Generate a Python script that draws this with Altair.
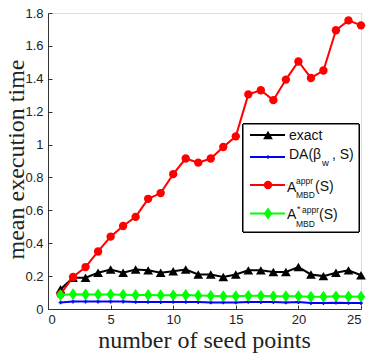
import altair as alt
import pandas as pd

seeds = list(range(1, 26))

exact = [0.12, 0.19, 0.19, 0.22, 0.24, 0.22, 0.24, 0.235, 0.22, 0.23,
         0.24, 0.21, 0.21, 0.195, 0.21, 0.235, 0.235, 0.225, 0.225, 0.255,
         0.21, 0.20, 0.22, 0.235, 0.205]
da_beta = [0.04, 0.045, 0.045, 0.045, 0.045, 0.045, 0.043, 0.043, 0.042, 0.043,
           0.043, 0.042, 0.04, 0.04, 0.04, 0.043, 0.042, 0.042, 0.04, 0.042,
           0.036, 0.036, 0.038, 0.037, 0.036]
a_mbd = [0.09, 0.195, 0.255, 0.35, 0.44, 0.505, 0.56, 0.67, 0.705, 0.82,
         0.915, 0.89, 0.915, 0.985, 1.05, 1.305, 1.33, 1.27, 1.395, 1.505,
         1.405, 1.45, 1.695, 1.755, 1.725]
a_mbd_star = [0.085, 0.09, 0.088, 0.088, 0.088, 0.087, 0.085, 0.085, 0.084, 0.084,
              0.085, 0.082, 0.08, 0.078, 0.078, 0.08, 0.08, 0.078, 0.078, 0.078,
              0.075, 0.075, 0.077, 0.076, 0.075]

series_names = ["exact", "da", "appr", "star"]
series_values = [exact, da_beta, a_mbd, a_mbd_star]
series_colors = ["#000000", "#0000ff", "#ff0000", "#00ff00"]

rows = []
for name, vals in zip(series_names, series_values):
    for s, v in zip(seeds, vals):
        rows.append({"series": name, "seeds": s, "time": v})
df = pd.DataFrame(rows)

W, H = 313, 296
sans = "Liberation Sans"
serif = "Liberation Serif"
x_ticks = [0, 5, 10, 15, 20, 25]
y_ticks = [0, 0.2, 0.4, 0.6, 0.8, 1.0, 1.2, 1.4, 1.6, 1.8]

x_scale = alt.Scale(domain=[0, 25], nice=False, zero=False)
y_scale = alt.Scale(domain=[0, 1.8], nice=False)

x_axis = alt.Axis(values=x_ticks, ticks=False, grid=False,
                  domainColor="#333333", labelFont=sans, labelFontSize=13,
                  labelColor="#222222", labelPadding=4,
                  title="number of seed points", titleFont=serif,
                  titleFontSize=24, titleFontWeight="normal", titleColor="#222222",
                  titleBaseline="alphabetic", titleX=156, titleY=38)
y_axis = alt.Axis(values=y_ticks, format=".1~f", ticks=False, grid=False,
                  domainColor="#333333", labelFont=sans, labelFontSize=13,
                  labelColor="#222222", labelPadding=5,
                  title="mean execution time", titleFont=serif,
                  titleFontSize=24, titleFontWeight="normal", titleColor="#222222",
                  titleBaseline="alphabetic", titleAngle=-90,
                  titleX=-25, titleY=146)

base = alt.Chart(df)

marker_specs = {
    "exact": dict(shape="triangle-up", size=95, filled=True),
    "da": dict(shape="M-1,0L1,0M0,-1L0,1", size=14, filled=False, strokeWidth=1.5),
    "appr": dict(shape="circle", size=70, filled=True),
    "star": dict(shape="M0,-1L0.7,0L0,1L-0.7,0Z", size=140, filled=True),
}

layers = []
first = True
for name, color in zip(series_names, series_colors):
    sub = base.transform_filter(alt.datum.series == name)
    line = sub.mark_line(color=color, strokeWidth=2).encode(
        x=alt.X("seeds:Q", scale=x_scale, axis=x_axis if first else None),
        y=alt.Y("time:Q", scale=y_scale, axis=y_axis if first else None),
    )
    first = False
    pts = sub.mark_point(color=color, opacity=1, **marker_specs[name]).encode(
        x=alt.X("seeds:Q", scale=x_scale, axis=None),
        y=alt.Y("time:Q", scale=y_scale, axis=None),
    )
    layers += [line, pts]

# inward-pointing ticks: axes shifted into the plot with outward ticks
tick_layer = alt.Chart(df).mark_point(opacity=0).encode(
    x=alt.X("seeds:Q", scale=x_scale,
            axis=alt.Axis(values=x_ticks, orient="bottom", offset=-4,
                          tickSize=4, tickColor="#333333", domain=False,
                          labels=False, title=None, grid=False)),
    y=alt.Y("time:Q", scale=y_scale,
            axis=alt.Axis(values=y_ticks, orient="left", offset=-4,
                          tickSize=4, tickColor="#333333", domain=False,
                          labels=False, title=None, grid=False)),
)

# legend box
legend_box = alt.Chart(df).mark_rect(fill="white", stroke="black",
                                     strokeWidth=1).encode(
    x=alt.value(195), x2=alt.value(311), y=alt.value(111), y2=alt.value(219)
)

legend_rows = [122, 144, 172, 200.5]
legend_parts = []
one = pd.DataFrame({"a": [0]})
for name, color, yy in zip(series_names, series_colors, legend_rows):
    legend_parts.append(
        alt.Chart(one).mark_rule(color=color, strokeWidth=2).encode(
            x=alt.value(202), x2=alt.value(237), y=alt.value(yy)
        )
    )
    legend_parts.append(
        alt.Chart(one).mark_point(color=color, opacity=1,
                                  **marker_specs[name]).encode(
            x=alt.value(220), y=alt.value(yy)
        )
    )

# legend labels with sub- and superscripts
label_text = ["exact", "DA(\u03b2", "w", ", S)",
              "A", "appr", "MBD", "(S)",
              "A", "*", "appr", "MBD", "(S)"]
label_x = [241, 241, 274, 284,
           239, 248, 248, 267,
           239, 249, 254, 248, 271]
label_y = [123, 142, 150, 142,
           175, 168, 182, 174,
           202, 196, 197, 211, 202]
label_size = [14, 14, 9.5, 14,
              14, 8.5, 8.5, 14,
              14, 9, 8.5, 8.5, 14]
labels_df = pd.DataFrame({"t": label_text, "px": label_x, "py": label_y,
                          "fs": label_size})
legend_labels = alt.Chart(labels_df).mark_text(
    align="left", baseline="middle", font=sans, color="#111111"
).encode(
    x=alt.X("px:Q", scale=None),
    y=alt.Y("py:Q", scale=None),
    text="t:N",
    size=alt.Size("fs:Q", scale=None, legend=None),
)

chart = alt.layer(
    *layers, tick_layer, legend_box, *legend_parts, legend_labels
).resolve_axis(x="independent", y="independent").properties(
    width=W, height=H,
    autosize=alt.AutoSizeParams(type="none"),
    padding={"left": 48, "top": 13, "right": 9, "bottom": 44},
).configure_view(stroke=None).configure(background="white")

chart.save("out.html", embed_options={"renderer": "svg", "actions": False})
